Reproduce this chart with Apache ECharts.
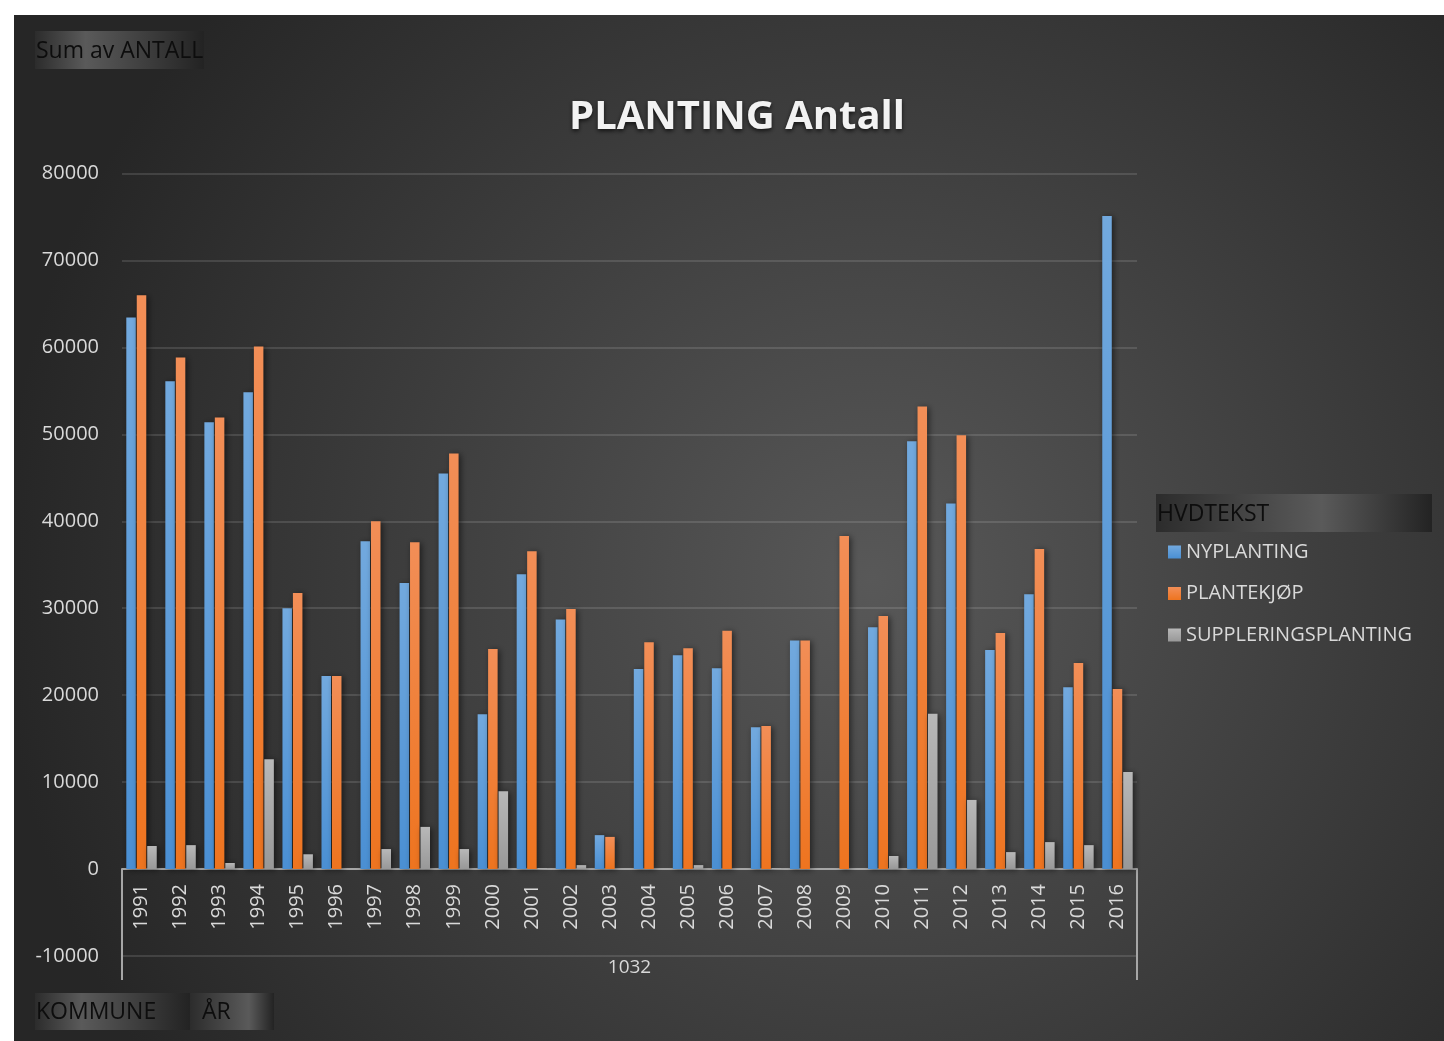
<!DOCTYPE html>
<html>
<head>
<meta charset="utf-8">
<script src="https://cdn.jsdelivr.net/npm/echarts@6/dist/echarts.min.js"></script>
<style>
  html, body { margin: 0; padding: 0; background: #fff; }
  #chart { position: absolute; left: 14px; top: 15px; width: 1430px; height: 1026px; }
</style>
</head>
<body>
<div id="chart"></div>
<script>
let years = ['1991', '1992', '1993', '1994', '1995', '1996', '1997', '1998', '1999', '2000',
    '2001', '2002', '2003', '2004', '2005', '2006', '2007', '2008', '2009', '2010',
    '2011', '2012', '2013', '2014', '2015', '2016'];
let kommune = ['1032'];
let seriesNames = ['NYPLANTING', 'PLANTEKJØP', 'SUPPLERINGSPLANTING'];

let nyplanting = [63450, 56100, 51400, 54850, 30000, 22200, 37700, 32900, 45500, 17800,
    33900, 28700, 3900, 23000, 24600, 23100, 16300, 26300, null, 27800,
    49200, 42050, 25200, 31600, 20900, 75100];
let plantekjop = [66000, 58850, 51950, 60100, 31750, 22200, 40000, 37600, 47800, 25300,
    36550, 29900, 3700, 26100, 25400, 27400, 16450, 26300, 38300, 29100,
    53200, 49900, 27150, 36800, 23700, 20700];
let suppleringsplanting = [2650, 2750, 700, 12640, 1700, null, 2300, 4850, 2300, 8950,
    120, 450, null, null, 450, null, 120, null, null, 1500,
    17850, 7950, 1950, 3100, 2750, 11150];

let font = '"Open Sans", Lato, sans-serif';
let labelColor = '#d9d9d9';

// bar fill, lighter at the top like the Excel style
let grad = (top, bottom) => new echarts.graphic.LinearGradient(0, 0, 0, 1, [
    { offset: 0, color: top },
    { offset: 1, color: bottom }
]);

// pivot field button: dark box with a soft light band at "spot"
let fieldButton = (x, y, w, h, text, spot, textX) => ({
    type: 'group',
    left: x,
    top: y,
    children: [
        {
            type: 'rect',
            shape: { width: w, height: h },
            style: {
                fill: new echarts.graphic.LinearGradient(0, 0, 1, 0, [
                    { offset: 0, color: '#2c2c2c' },
                    { offset: spot, color: '#5a5a5a' },
                    { offset: 1, color: '#232323' }
                ])
            }
        },
        {
            type: 'text',
            x: textX,
            y: h / 2 + 1,
            style: {
                text: text,
                fill: '#0d0d0d',
                font: '23px ' + font,
                verticalAlign: 'middle'
            }
        }
    ]
});

let barSeries = (name, data, top, bottom) => ({
    name: name,
    type: 'bar',
    data: data,
    barGap: '10%',
    barCategoryGap: '22%',
    itemStyle: {
        color: grad(top, bottom),
        shadowColor: 'rgba(0,0,0,0.55)',
        shadowBlur: 6,
        shadowOffsetX: 2,
        shadowOffsetY: 1
    }
});

let option = {
    backgroundColor: new echarts.graphic.RadialGradient(0.6, 0.55, 0.85, [
        { offset: 0, color: '#585858' },
        { offset: 1, color: '#262626' }
    ]),
    animation: false,
    title: {
        text: 'PLANTING Antall',
        left: 718,
        top: 78,
        textAlign: 'center',
        textStyle: {
            fontFamily: font,
            fontWeight: 'bold',
            fontSize: 40,
            color: '#f2f2f2',
            textShadowColor: 'rgba(0,0,0,0.7)',
            textShadowBlur: 4,
            textShadowOffsetY: 2
        }
    },
    legend: {
        orient: 'vertical',
        left: 1154,
        top: 527,
        padding: 0,
        itemWidth: 13,
        itemHeight: 13,
        itemGap: 21.5,
        icon: 'rect',
        data: seriesNames,
        textStyle: { fontFamily: font, fontSize: 20, color: labelColor }
    },
    grid: { left: 108, right: 307, top: 158.5, bottom: 85 },
    xAxis: [
        {
            type: 'category',
            data: years,
            position: 'bottom',
            offset: -87,
            axisLine: { onZero: false, lineStyle: { color: '#a6a6a6', width: 2 } },
            axisTick: { show: false },
            axisLabel: {
                rotate: 90,
                margin: 15,
                fontFamily: font,
                fontSize: 20,
                color: labelColor
            }
        },
        {
            type: 'category',
            data: kommune,
            position: 'bottom',
            offset: 24,
            axisLine: { show: false, onZero: false },
            axisTick: {
                show: true,
                inside: true,
                length: 111,
                lineStyle: { color: '#a6a6a6', width: 2 }
            },
            axisLabel: {
                inside: true,
                margin: 3,
                fontFamily: font,
                fontSize: 19,
                color: labelColor
            }
        }
    ],
    yAxis: {
        type: 'value',
        min: -10000,
        max: 80000,
        interval: 10000,
        axisLine: { show: false },
        axisTick: { show: false },
        axisLabel: {
            margin: 23,
            fontFamily: font,
            fontSize: 20,
            color: labelColor,
            formatter: v => String(v)
        },
        splitLine: { lineStyle: { color: 'rgba(255,255,255,0.12)', width: 2 } }
    },
    graphic: [
        fieldButton(21, 16, 169, 38, 'Sum av ANTALL', 0.3, 1),
        fieldButton(21, 978, 155, 37, 'KOMMUNE', 0.3, 1),
        fieldButton(176, 978, 84, 37, 'ÅR', 0.7, 12),
        fieldButton(1142, 479, 276, 38, 'HVDTEKST', 0.6, 1)
    ],
    series: [
        barSeries(seriesNames[0], nyplanting, '#72a9de', '#4a8fd3'),
        barSeries(seriesNames[1], plantekjop, '#f28e57', '#ee741f'),
        barSeries(seriesNames[2], suppleringsplanting, '#b8b8b8', '#989898')
    ]
};

let myChart = echarts.init(document.getElementById('chart'));
myChart.setOption(option);
</script>
</body>
</html>
